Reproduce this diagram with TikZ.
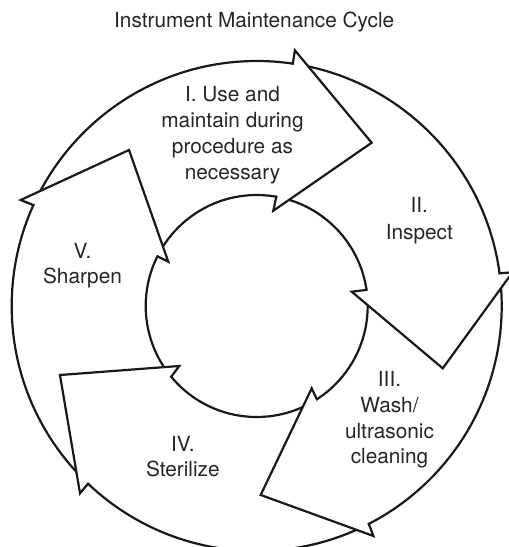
\documentclass[tikz,border=0pt]{standalone}
\usepackage{fontspec}
\setmainfont{TeX Gyre Heros}
\begin{document}
\begin{tikzpicture}[x=1pt,y=-1pt,
  ring/.style={draw=black!90, line width=2.2pt},
  headline/.style={draw=black!90, line width=2.2pt, line join=miter, miter limit=12},
  lbl/.style={anchor=base, inner sep=0pt, text=black!85,
              font=\fontsize{20.8}{26}\selectfont}]
\useasboundingbox (0,0) rectangle (509,547);
\clip (0,0) rectangle (509,547);
\fill[white] (0,0) rectangle (509,547);

% ring of five curved arrows around the centre
\begin{scope}[shift={(256.7,306)}]
  \coordinate (c) at (0,0);
  \draw[ring] (c) circle[radius=245];
  \draw[ring] (c) circle[radius=111];
  % arrow heads: base on outer rim, outer barb, tip, inner barb, base on inner rim
  \foreach \n/\a/\bo/\bor/\t/\tr/\bi/\bir/\ai in {
      h1/-81.54/-81.5/258.5/-54.85/199.7/-80.12/96.7/-79.78,
      h2/-7.68/-7.5/258/18.52/196.2/-8.56/96.1/-8.33,
      h3/62.75/63.1/257.9/88.79/189/56.25/99/57.25,
      h4/133.52/133.33/257.5/160.67/208.5/142.22/97.9/140.25,
      h5/-155.67/-155.81/258.7/-129.3/201.6/-153.39/98.9/-153.39}{
    \coordinate (\n-a)  at (\a:243.9);
    \coordinate (\n-bo) at (\bo:\bor);
    \coordinate (\n-t)  at (\t:\tr);
    \coordinate (\n-bi) at (\bi:\bir);
    \coordinate (\n-ai) at (\ai:112.1);
    \fill[white] (\n-a) -- (\n-bo) -- (\n-t) -- (\n-bi) -- (\n-ai) -- cycle;
    \draw[headline] (\n-a) -- (\n-bo) -- (\n-t) -- (\n-bi) -- (\n-ai);
  }
\end{scope}

% title
\node[lbl] (title) at (254.2,27.7) {Instrument Maintenance Cycle};

% I
\node[lbl] (s1a) at (232.5,101.7) {I. Use and};
\node[lbl] (s1b) at (232.5,127.6) {maintain during};
\node[lbl] (s1c) at (232.5,153.5) {procedure as};
\node[lbl] (s1d) at (232.5,179.4) {necessary};
% II
\node[lbl] (s2a) at (419.3,212.7) {II.};
\node[lbl] (s2b) at (419.3,239) {Inspect};
% III
\node[lbl] (s3a) at (389.5,386.7) {III.};
\node[lbl] (s3b) at (389.5,412.7) {Wash/};
\node[lbl] (s3c) at (389.5,438.3) {ultrasonic};
\node[lbl] (s3d) at (389.5,463.3) {cleaning};
% IV
\node[lbl] (s4a) at (182.8,451) {IV.};
\node[lbl] (s4b) at (182.8,476.7) {Sterilize};
% V
\node[lbl] (s5a) at (82.5,258.3) {V.};
\node[lbl] (s5b) at (82.5,283.3) {Sharpen};
\end{tikzpicture}
\end{document}
